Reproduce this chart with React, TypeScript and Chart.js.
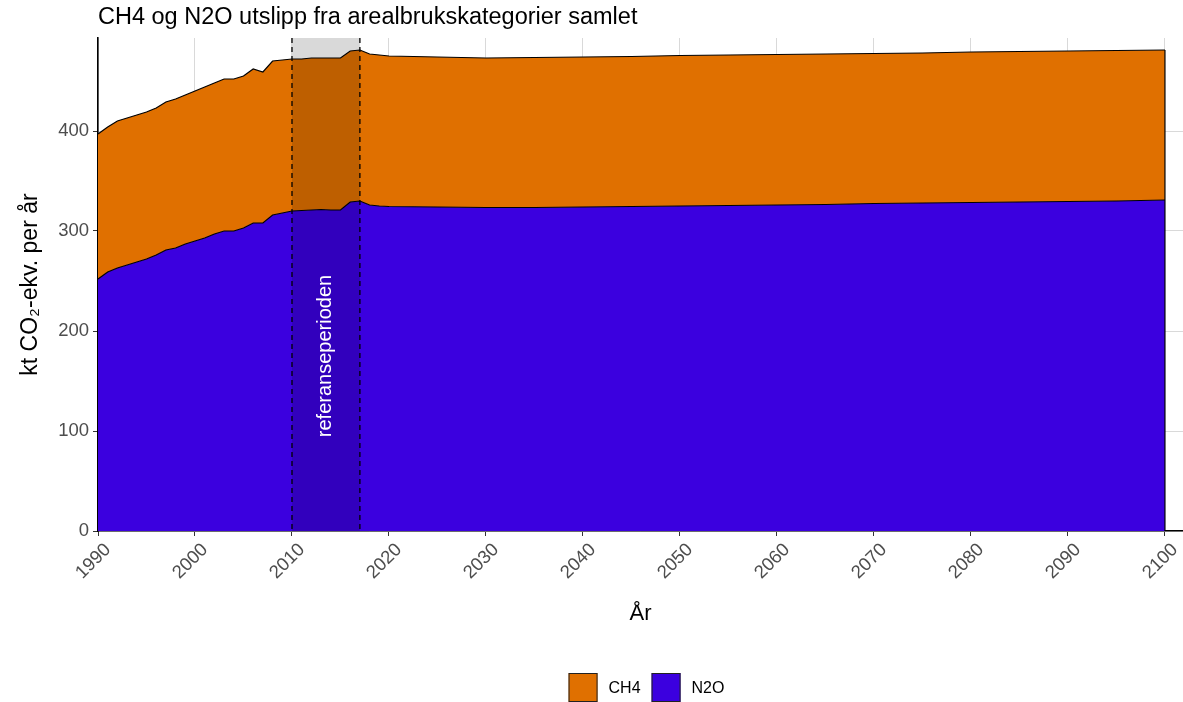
import React, { useEffect, useRef } from "react";
import { Chart, registerables } from "chart.js";

Chart.register(...registerables);

const TITLE = "CH4 og N2O utslipp fra arealbrukskategorier samlet";
const Y_TITLE = "kt CO\u2082-ekv. per år";
const X_TITLE = "År";
const REF_LABEL = "referanseperioden";

const years = [
  1990, 1991, 1992, 1993, 1994, 1995, 1996, 1997, 1998, 1999,
  2000, 2001, 2002, 2003, 2004, 2005, 2006, 2007, 2008, 2009,
  2010, 2011, 2012, 2013, 2014, 2015, 2016, 2017, 2018, 2019,
  2020, 2025, 2030, 2035, 2040, 2045, 2050, 2055, 2060, 2065,
  2070, 2075, 2080, 2085, 2090, 2095, 2100,
];

const n2o = [
  252, 259, 263, 266, 269, 272, 276, 281, 283, 287,
  290, 293, 297, 300, 300, 303, 308, 308, 316, 318,
  320, 320.5, 321, 321.5, 321, 321, 329, 330, 326, 325,
  324.5, 324, 323.5, 323.5, 324, 324.5, 325, 325.5, 326, 326.5,
  327.5, 328, 328.5, 329, 329.5, 330, 331,
];

const ch4 = [
  145, 145, 147, 147, 147, 147, 147, 148, 149, 149,
  150, 151, 151, 152, 152, 152, 154, 151, 154, 153,
  152, 151.5, 152, 151.5, 152, 152, 151, 151, 151, 151,
  150.5, 150, 149.5, 150, 150, 150, 150.5, 150.5, 150.5, 150.5,
  150, 150, 150.5, 150.5, 150.5, 150.5, 150,
];

const xTicks = [1990, 2000, 2010, 2020, 2030, 2040, 2050, 2060, 2070, 2080, 2090, 2100];
const yTicks = [0, 100, 200, 300, 400];
const refPeriod = [2010, 2017];

const seriesNames = ["N2O", "CH4"];
const seriesColors = ["#3b00df", "#e07000"];

const FONT = "'Liberation Sans', Arial, sans-serif";

const overlayPlugin = {
  id: "overlay",
  afterDatasetsDraw(chart: any) {
    const { ctx, chartArea, scales } = chart;
    const xs = scales.x;
    const ys = scales.y;
    const x0 = xs.getPixelForValue(refPeriod[0]);
    const x1 = xs.getPixelForValue(refPeriod[1]);
    ctx.save();
    ctx.fillStyle = "rgba(0,0,0,0.15)";
    ctx.fillRect(x0, chartArea.top, x1 - x0, chartArea.bottom - chartArea.top);
    ctx.strokeStyle = "#000";
    ctx.lineWidth = 1.3;
    ctx.setLineDash([5, 4]);
    [x0, x1].forEach((x) => {
      ctx.beginPath();
      ctx.moveTo(x, chartArea.top);
      ctx.lineTo(x, chartArea.bottom);
      ctx.stroke();
    });
    ctx.setLineDash([]);
    // right edge outline of the area
    const last = years.length - 1;
    const xr = xs.getPixelForValue(years[last]);
    ctx.lineWidth = 1.2;
    ctx.beginPath();
    ctx.moveTo(xr, ys.getPixelForValue(n2o[last] + ch4[last]));
    ctx.lineTo(xr, chartArea.bottom);
    ctx.stroke();
    // label
    ctx.translate((x0 + x1) / 2, ys.getPixelForValue(175));
    ctx.rotate(-Math.PI / 2);
    ctx.fillStyle = "#fff";
    ctx.font = `20px ${FONT}`;
    ctx.textAlign = "center";
    ctx.textBaseline = "middle";
    ctx.fillText(REF_LABEL, 0, 0);
    ctx.restore();
  },
  afterDraw(chart: any) {
    const { ctx, chartArea } = chart;
    ctx.save();
    ctx.fillStyle = "#000";
    ctx.font = `23.5px ${FONT}`;
    ctx.textAlign = "left";
    ctx.textBaseline = "middle";
    ctx.fillText(TITLE, chartArea.left, 18);
    // legend
    const order = [1, 0];
    const boxSize = 29;
    const gap = 11;
    const itemGap = 11;
    ctx.font = `16px ${FONT}`;
    const widths = order.map((i) => boxSize + gap + ctx.measureText(seriesNames[i]).width);
    const total = widths.reduce((a, b) => a + b, 0) + itemGap * (order.length - 1);
    let x = 646.5 - total / 2;
    const y = 673;
    order.forEach((i, k) => {
      ctx.fillStyle = seriesColors[i];
      ctx.fillRect(x, y, boxSize, boxSize);
      ctx.strokeStyle = "#222";
      ctx.lineWidth = 1;
      ctx.strokeRect(x + 0.5, y + 0.5, boxSize - 1, boxSize - 1);
      ctx.fillStyle = "#000";
      ctx.textBaseline = "middle";
      ctx.fillText(seriesNames[i], x + boxSize + gap, y + boxSize / 2 + 1);
      x += widths[k] + itemGap;
    });
    ctx.restore();
  },
};

export default function App() {
  const ref = useRef<HTMLCanvasElement>(null);
  useEffect(() => {
    if (!ref.current) return;
    const chart = new Chart(ref.current, {
      type: "line",
      data: {
        datasets: [
          {
            label: seriesNames[0],
            data: years.map((x, i) => ({ x, y: n2o[i] })),
            backgroundColor: seriesColors[0],
            borderColor: "#000",
            borderWidth: 1.2,
            pointRadius: 0,
            fill: "origin",
            tension: 0,
          },
          {
            label: seriesNames[1],
            data: years.map((x, i) => ({ x, y: ch4[i] })),
            backgroundColor: seriesColors[1],
            borderColor: "#000",
            borderWidth: 1.2,
            pointRadius: 0,
            fill: "-1",
            tension: 0,
          },
        ],
      },
      options: {
        animation: false,
        responsive: false,
        layout: { padding: { top: 38, left: 0, right: 0, bottom: 0 } },
        plugins: {
          legend: { display: false },
          title: { display: false },
          tooltip: { enabled: false },
        },
        scales: {
          x: {
            type: "linear",
            min: 1990,
            max: 2101.86,
            afterBuildTicks: (axis: any) => {
              axis.ticks = xTicks.map((v) => ({ value: v }));
            },
            afterFit: (axis: any) => {
              axis.height = 171;
              axis.paddingLeft = 0;
              axis.paddingRight = 0;
            },
            ticks: {
              includeBounds: false,
              minRotation: 45,
              maxRotation: 45,
              color: "#4d4d4d",
              font: { family: FONT, size: 18.5 },
              padding: 3,
              labelOffset: 10,
              callback: (v: any) => String(v),
            },
            grid: {
              color: "#d9d9d9",
              lineWidth: 1,
              tickColor: "#333",
              tickLength: 5,
            },
            border: { display: true, color: "#000", width: 1.6 },
            title: {
              display: true,
              text: X_TITLE,
              color: "#000",
              font: { family: FONT, size: 22 },
              padding: { top: 0, bottom: 75 },
            },
          },
          y: {
            type: "linear",
            stacked: true,
            min: 0,
            max: 493,
            afterBuildTicks: (axis: any) => {
              axis.ticks = yTicks.map((v) => ({ value: v }));
            },
            afterFit: (axis: any) => {
              axis.width = 98;
            },
            ticks: {
              includeBounds: false,
              color: "#4d4d4d",
              font: { family: FONT, size: 18.5 },
              padding: 4,
            },
            grid: {
              color: "#d9d9d9",
              lineWidth: 1,
              tickColor: "#333",
              tickLength: 5,
            },
            border: { display: true, color: "#000", width: 1.6 },
            title: {
              display: true,
              text: Y_TITLE,
              color: "#000",
              font: { family: FONT, size: 23 },
              padding: { top: 17, bottom: 0 },
            },
          },
        },
      },
      plugins: [overlayPlugin],
    } as any);
    return () => chart.destroy();
  }, []);
  return (
    <div style={{ position: "absolute", left: 0, top: 0, width: 1183, height: 702, background: "#fff" }}>
      <canvas ref={ref} width={1183} height={702} />
    </div>
  );
}
